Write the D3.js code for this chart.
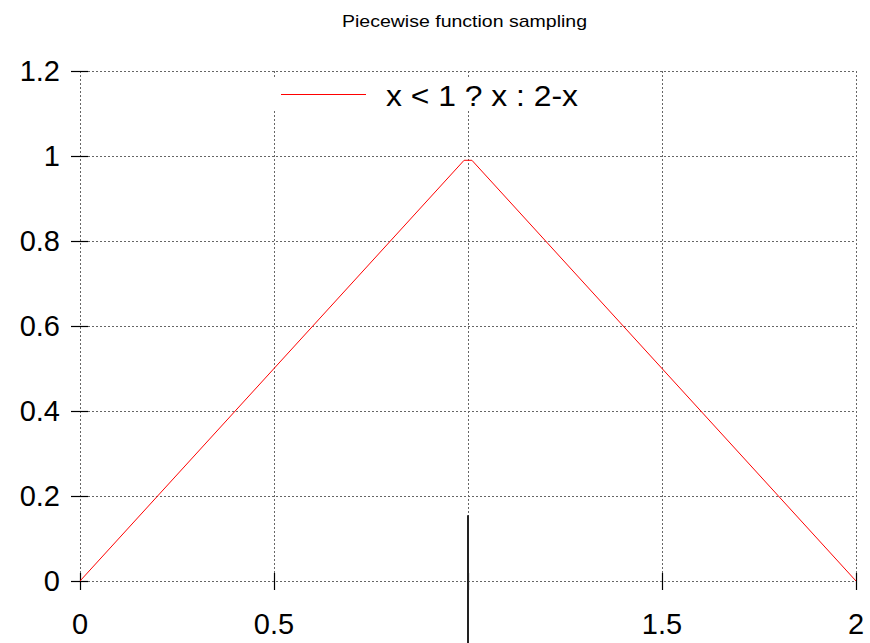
<!DOCTYPE html>
<html><head><meta charset="utf-8">
<script src="https://cdn.jsdelivr.net/npm/d3@7/dist/d3.min.js"></script>
<style>body{margin:0;background:#fff}svg{display:block;font-family:"Liberation Sans",Arial,sans-serif}</style>
</head><body>
<svg id="c" width="870" height="643"></svg>
<script>
const title = "Piecewise function sampling";
const seriesLabel = "x < 1 ? x : 2-x";
const xs = [0, 0.9899, 1.0101, 2];
const ys = [0, 0.9899, 0.9899, 0];
const xTicks = [0, 0.5, 1, 1.5, 2];
const xTickLabels = ["0", "0.5", "", "1.5", "2"];
const yTicks = [0, 0.2, 0.4, 0.6, 0.8, 1, 1.2];
const yTickLabels = ["0", "0.2", "0.4", "0.6", "0.8", "1", "1.2"];
const markerX = [1];
const markerY = [0.155, -0.2];

const svg = d3.select("#c");
const x = d3.scaleLinear().domain([0, 2]).range([80, 856]);
const y = d3.scaleLinear().domain([0, 1.2]).range([581, 71]);

const grid = svg.append("g").attr("stroke", "#666").attr("stroke-dasharray", "2,2").attr("stroke-width", 1);
xTicks.forEach(t => grid.append("line").attr("x1", Math.round(x(t)) + 0.5).attr("x2", Math.round(x(t)) + 0.5).attr("y1", y(1.2)).attr("y2", y(0)));
yTicks.forEach(t => grid.append("line").attr("y1", Math.round(y(t)) + 0.5).attr("y2", Math.round(y(t)) + 0.5).attr("x1", x(0)).attr("x2", x(2)));

// tick marks
const tk = svg.append("g").attr("stroke", "#000").attr("stroke-width", 1.2);
xTicks.forEach(t => tk.append("line").attr("x1", Math.round(x(t)) + 0.5).attr("x2", Math.round(x(t)) + 0.5).attr("y1", y(0) - 8).attr("y2", y(0) + 9));
yTicks.forEach(t => tk.append("line").attr("y1", Math.round(y(t)) + 0.5).attr("y2", Math.round(y(t)) + 0.5).attr("x1", x(0) - 9).attr("x2", x(0) + 8));

// tick labels
const lab = svg.append("g").attr("font-size", 29).attr("fill", "#000");
xTicks.forEach((t, i) => lab.append("text").attr("x", x(t)).attr("y", 634).attr("text-anchor", "middle").text(xTickLabels[i]));
yTicks.forEach((t, i) => lab.append("text").attr("x", 60).attr("y", y(t) + 10).attr("text-anchor", "end").text(yTickLabels[i]));

// legend box
svg.append("rect").attr("x", 270).attr("y", 79).attr("width", 345).attr("height", 31).attr("fill", "#fff");
svg.append("line").attr("x1", 281).attr("x2", 366).attr("y1", 94.5).attr("y2", 94.5).attr("stroke", "#ff0000").attr("stroke-width", 1);
svg.append("text").attr("x", 386).attr("y", 106).attr("font-size", 29)
  .attr("textLength", 192).attr("lengthAdjust", "spacingAndGlyphs").text(seriesLabel);

// black marker line
svg.append("line").attr("x1", x(markerX[0])).attr("x2", x(markerX[0]))
  .attr("y1", y(markerY[0])).attr("y2", y(markerY[1])).attr("stroke", "#222").attr("stroke-width", 2);

// series
const line = d3.line().x((d, i) => x(xs[i])).y((d, i) => y(ys[i]));
svg.append("path").datum(xs).attr("d", line).attr("fill", "none").attr("stroke", "#ff0000").attr("stroke-width", 1);

svg.append("text").attr("x", 342).attr("y", 27).attr("font-size", 17)
  .attr("textLength", 245).attr("lengthAdjust", "spacingAndGlyphs").text(title);
</script>
</body></html>
